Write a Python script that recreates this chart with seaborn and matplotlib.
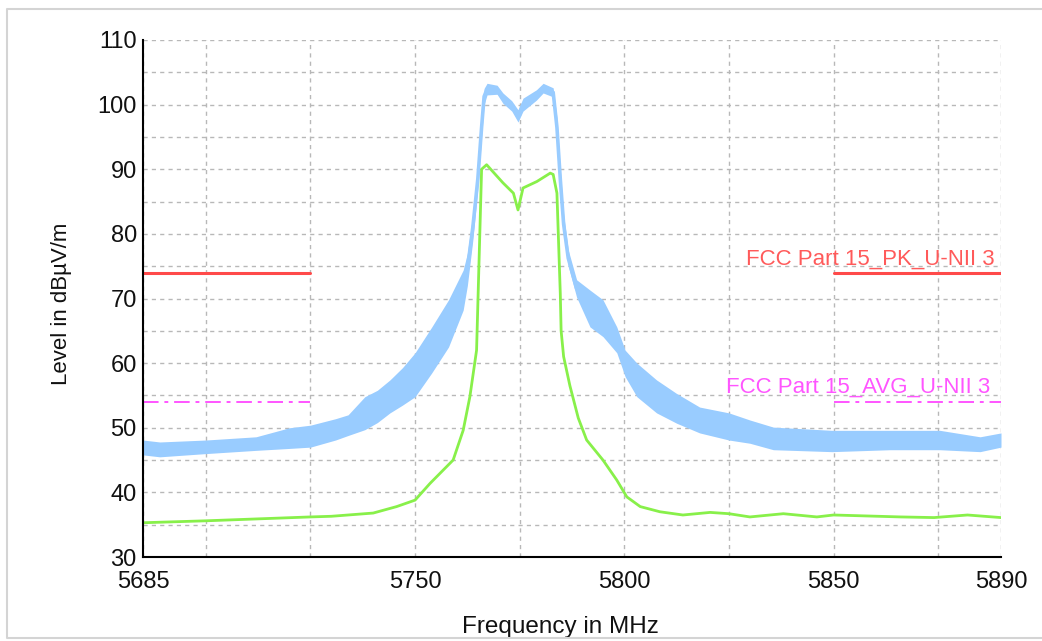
import numpy as np
import pandas as pd
import matplotlib
matplotlib.use("Agg")
import matplotlib.pyplot as plt
from matplotlib.lines import Line2D
import seaborn as sns

# ---- peak trace (light blue band: lower / upper envelope of the PK sweep) ----
freq_pk = [5685, 5689, 5700, 5712, 5720, 5725, 5731, 5734, 5738, 5741,
           5744, 5747, 5750, 5754, 5758, 5761.5, 5762.5, 5763.8, 5765, 5765.9,
           5766.5, 5767.2, 5769.6, 5771, 5773.1, 5774.6, 5775.8, 5779, 5780.6, 5783,
           5783.9, 5784.7, 5785.5, 5786.6, 5788.6, 5791.8, 5794.9, 5798.2, 5800.2, 5803,
           5807.7, 5812.5, 5818, 5825, 5830, 5835.6, 5849.6, 5863.5, 5875.4, 5885,
           5890]
pk_low = [45.8, 45.5, 46.0, 46.5, 46.8, 47.0, 48.1, 48.8, 49.7, 50.8,
          52.3, 53.5, 54.8, 58.5, 62.5, 68.2, 72.0, 79.0, 87.0, 95.0,
          100.0, 101.5, 101.6, 100.2, 99.0, 97.3, 99.0, 100.7, 101.8, 101.2,
          95.0, 87.0, 80.0, 75.0, 70.2, 65.6, 64.1, 61.6, 57.9, 54.8,
          52.3, 50.7, 49.2, 48.1, 47.6, 46.6, 46.3, 46.6, 46.6, 46.3,
          47.0]
pk_high = [48.1, 47.8, 48.1, 48.6, 50.0, 50.4, 51.4, 52.0, 54.8, 55.8,
           57.4, 59.3, 61.6, 65.6, 69.8, 74.4, 77.0, 83.0, 90.0, 98.0,
           102.5, 103.3, 103.0, 101.8, 100.6, 99.2, 101.0, 102.3, 103.3, 102.6,
           98.0, 90.0, 83.0, 77.5, 72.9, 71.3, 69.8, 65.6, 62.0, 60.0,
           57.4, 55.3, 53.2, 52.3, 51.2, 50.1, 49.6, 49.6, 49.6, 48.6,
           49.2]

# ---- average trace (green) ----
freq_av = [5685, 5700, 5725, 5730, 5740, 5745.6, 5750, 5753.6, 5759.1, 5761.5,
           5763.1, 5764.7, 5765.3, 5765.9, 5767.1, 5771, 5773.5, 5774.6, 5775.8, 5779.1,
           5782.3, 5783.0, 5783.9, 5784.7, 5784.9, 5785.5, 5787.0, 5789.0, 5791, 5794.9,
           5798.2, 5800.6, 5803.8, 5808.5, 5814, 5820.5, 5825, 5830, 5838, 5846,
           5850, 5866, 5874, 5882, 5890]
av_level = [35.3, 35.6, 36.2, 36.3, 36.8, 37.8, 38.8, 41.4, 45.0, 49.6,
            54.8, 62.0, 76.0, 90.0, 90.7, 87.9, 86.3, 83.7, 87.1, 88.1,
            89.4, 89.2, 86.3, 70.8, 65.0, 61.0, 56.5, 51.5, 48.1, 45.0,
            41.9, 39.3, 37.8, 37.0, 36.5, 36.9, 36.7, 36.2, 36.7, 36.2,
            36.5, 36.2, 36.1, 36.5, 36.1]

# ---- limit lines ----
limit_segments = [(5685, 5725), (5850, 5890)]
pk_limit = 74.0
avg_limit = 54.0
pk_limit_name = "FCC Part 15_PK_U-NII 3"
avg_limit_name = "FCC Part 15_AVG_U-NII 3"

x_major = [5685, 5750, 5800, 5850, 5890]
x_minor = [5700, 5725, 5775, 5825, 5875]
y_major = list(range(30, 111, 10))
y_minor = list(range(35, 106, 10))

BLUE = "#99ccff"
GREEN = "#88f04a"
RED = "#ff4a4a"
MAGENTA = "#ff55ff"

sns.set_theme(style="white")
plt.rcParams["font.family"] = ["Liberation Sans", "DejaVu Sans"]

fig = plt.figure(figsize=(10.42, 6.41), dpi=100)
ax = fig.add_axes([143 / 1042, 1 - 557 / 641, 858 / 1042, 517 / 641])

# peak band drawn as the min-max interval of the two envelopes
df_pk = pd.DataFrame({
    "freq": np.concatenate([freq_pk, freq_pk]),
    "level": np.concatenate([pk_low, pk_high]),
})
sns.lineplot(data=df_pk, x="freq", y="level", estimator="mean",
             errorbar=("pi", 100), color=BLUE, linewidth=2.6,
             err_kws={"alpha": 1.0, "linewidth": 0}, ax=ax, zorder=3)

df_av = pd.DataFrame({"freq": freq_av, "level": av_level})
sns.lineplot(data=df_av, x="freq", y="level", color=GREEN, linewidth=2.0,
             errorbar=None, ax=ax, zorder=4)

for x0, x1 in limit_segments:
    sns.lineplot(x=[x0, x1], y=[pk_limit, pk_limit], color=RED,
                 linewidth=2.2, ax=ax, zorder=5)
    sns.lineplot(x=[x0, x1], y=[avg_limit, avg_limit], color=MAGENTA,
                 linewidth=1.4, linestyle=(0, (8, 3, 2, 3)), ax=ax, zorder=5)

ax.text(5888.5, pk_limit + 1.2, pk_limit_name, color="#ff5a5a",
        fontsize=16, ha="right", va="baseline", zorder=6)
ax.text(5887.5, avg_limit + 1.4, avg_limit_name, color=MAGENTA,
        fontsize=16, ha="right", va="baseline", zorder=6)

ax.set_xlim(5685, 5890)
ax.set_ylim(30, 110)
ax.set_xticks(x_major)
ax.set_xticks(x_minor, minor=True)
ax.set_yticks(y_major)
ax.set_yticks(y_minor, minor=True)

ax.grid(True, which="both", linestyle=(0, (3, 3)), color="#b8b8b8",
        linewidth=1.0, zorder=0)
ax.set_axisbelow(True)

for side in ("top", "right"):
    ax.spines[side].set_visible(False)
for side in ("left", "bottom"):
    ax.spines[side].set_color("black")
    ax.spines[side].set_linewidth(1.5)
    ax.spines[side].set_zorder(7)

ax.tick_params(axis="both", which="both", direction="inout", length=8,
               width=1.2, color="black", labelsize=17, labelcolor="#111111")
ax.tick_params(axis="x", which="both", pad=6)
ax.tick_params(axis="y", which="both", pad=0.5)

ax.set_xlabel("Frequency in MHz", fontsize=17.5, color="#111111")
ax.set_ylabel("Level in dBµV/m", fontsize=16, color="#111111")
ax.xaxis.set_label_coords(0.486, -0.115)
ax.yaxis.set_label_coords(-0.083, 0.49)

# thin frame around the plot area of the figure
W, H = 1042, 641
frame_pts = [(1050, 9), (7, 9), (7, 638), (1050, 638)]
fx = [p[0] / W for p in frame_pts]
fy = [1 - p[1] / H for p in frame_pts]
fig.add_artist(Line2D(fx, fy, color="#d4d4d4", linewidth=1.5,
                      transform=fig.transFigure))

fig.savefig("out.png", dpi=100, facecolor="white")
